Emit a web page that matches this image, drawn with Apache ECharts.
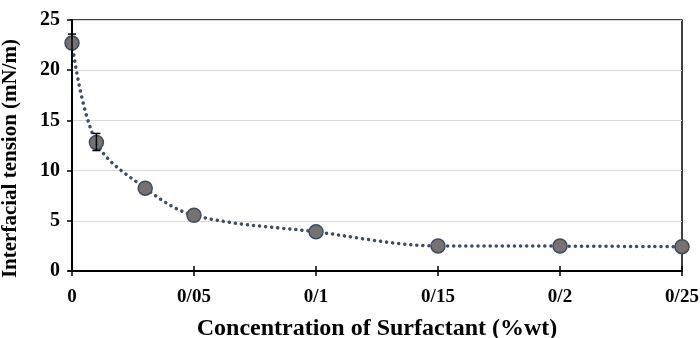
<!DOCTYPE html>
<html>
<head>
<meta charset="utf-8">
<script src="https://cdn.jsdelivr.net/npm/echarts@6/dist/echarts.min.js"></script>
<style>
  html, body { margin: 0; padding: 0; background: #fff; }
  #chart { width: 700px; height: 338px; }
</style>
</head>
<body>
<div id="chart"></div>
<script>
// concentration (%wt) and measured interfacial tension (mN/m)
const concentration = [0, 0.01, 0.03, 0.05, 0.1, 0.15, 0.2, 0.25];
const tension = [22.7, 12.8, 8.25, 5.55, 3.9, 2.5, 2.48, 2.42];
// error bar ends, null where no bar is drawn
const errLow = [0, 12.0, null, null, null, null, null, null];
const errHigh = [23.6, 13.7, null, null, null, null, null, null];
const xTickValues = [0, 0.05, 0.1, 0.15, 0.2, 0.25];
const xTickLabels = ['0', '0/05', '0/1', '0/15', '0/2', '0/25'];
const yTickLabels = ['0', '5', '10', '15', '20', '25'];

const font = '"Liberation Serif", "Times New Roman", serif';
const chart = echarts.init(document.getElementById('chart'));

const errData = [];
concentration.forEach((c, i) => {
  if (errLow[i] != null) errData.push([c, errLow[i], errHigh[i]]);
});

const option = {
  animation: false,
  grid: {
    left: 72, right: 18, top: 20, bottom: 67,
    outerBoundsMode: 'none',
    show: true, borderColor: '#000', borderWidth: 1.5, backgroundColor: 'transparent'
  },
  xAxis: [{
    type: 'value', min: 0, max: 0.25, interval: 0.05,
    name: 'Concentration of Surfactant (%wt)',
    nameLocation: 'middle', nameGap: 46,
    nameTextStyle: { fontFamily: font, fontWeight: 'bold', fontSize: 24, color: '#000' },
    axisLine: { lineStyle: { color: '#000', width: 2 } },
    axisTick: { show: true, length: 5, lineStyle: { color: '#000', width: 1.5 } },
    splitLine: { show: false },
    axisLabel: {
      margin: 17, fontFamily: font, fontWeight: 'bold', fontSize: 19, color: '#000',
      formatter: v => xTickLabels[xTickValues.findIndex(t => Math.abs(t - v) < 1e-9)]
    }
  }, {
    // second axis only for the inward half of the crossing ticks
    type: 'value', min: 0, max: 0.25, interval: 0.05, position: 'bottom',
    axisLine: { show: false },
    axisTick: { show: true, inside: true, length: 5, lineStyle: { color: '#000', width: 1.5 } },
    axisLabel: { show: false },
    splitLine: { show: false }
  }],
  yAxis: {
    type: 'value', min: 0, max: 25, interval: 5,
    name: 'Interfacial tension (mN/m)',
    nameLocation: 'middle', nameGap: 51,
    nameTextStyle: {
      fontFamily: font, fontWeight: 'bold', fontSize: 21, color: '#000',
      padding: [0, 26, 0, 0]
    },
    axisLine: { show: true, lineStyle: { color: '#000', width: 2 } },
    axisTick: { show: true, length: 5, lineStyle: { color: '#000', width: 1.5 } },
    splitLine: { lineStyle: { color: '#d9d9d9', width: 1.2 } },
    axisLabel: {
      margin: 12, fontFamily: font, fontWeight: 'bold', fontSize: 20, color: '#000',
      formatter: v => yTickLabels[Math.round(v / 5)]
    }
  },
  series: [{
    type: 'line',
    data: concentration.map((c, i) => [c, tension[i]]),
    smooth: 0.35,
    symbol: 'circle',
    symbolSize: 14,
    lineStyle: { type: [0.1, 6], cap: 'round', width: 3.5, color: '#3e4d63' },
    itemStyle: { color: '#777272', borderColor: '#3e4d63', borderWidth: 1.5 },
    z: 3
  }, {
    type: 'custom',
    data: errData,
    z: 4,
    renderItem: (params, api) => {
      const lo = api.coord([api.value(0), api.value(1)]);
      const hi = api.coord([api.value(0), api.value(2)]);
      const cap = 4;
      const style = { stroke: '#000', lineWidth: 1.5 };
      return {
        type: 'group',
        children: [
          { type: 'line', shape: { x1: lo[0], y1: lo[1], x2: hi[0], y2: hi[1] }, style },
          { type: 'line', shape: { x1: hi[0] - cap, y1: hi[1], x2: hi[0] + cap, y2: hi[1] }, style },
          { type: 'line', shape: { x1: lo[0] - cap, y1: lo[1], x2: lo[0] + cap, y2: lo[1] }, style }
        ]
      };
    }
  }]
};
chart.setOption(option);
</script>
</body>
</html>
